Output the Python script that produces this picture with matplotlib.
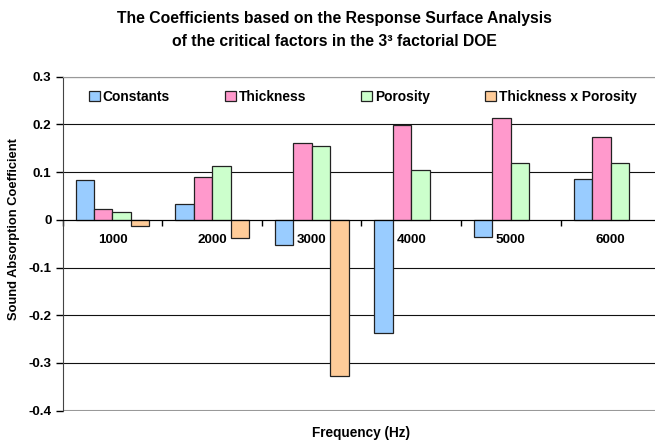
import numpy as np
import matplotlib.pyplot as plt

plt.rcParams['font.family'] = ['Liberation Sans', 'DejaVu Sans']
plt.rcParams['font.weight'] = 'bold'

frequencies = ['1000', '2000', '3000', '4000', '5000', '6000']
constants = [0.084, 0.033, -0.053, -0.238, -0.037, 0.086]
thickness = [0.023, 0.090, 0.161, 0.199, 0.213, 0.173]
porosity = [0.016, 0.113, 0.155, 0.105, 0.120, 0.120]
thick_x_por = [-0.012, -0.038, -0.327, np.nan, np.nan, np.nan]
y_ticks = [-0.4, -0.3, -0.2, -0.1, 0, 0.1, 0.2, 0.3]
y_tick_labels = ['-0.4', '-0.3', '-0.2', '-0.1', '0', '0.1', '0.2', '0.3']

series = [
    ('Constants', constants, '#99CCFF'),
    ('Thickness', thickness, '#FF99CC'),
    ('Porosity', porosity, '#CCFFCC'),
    ('Thickness x Porosity', thick_x_por, '#FFCC99'),
]

fig = plt.figure(figsize=(6.55, 4.45), dpi=100)
# plot area runs a little past the right edge of the figure
ax = fig.add_axes([0.0957, 0.0771, 0.9124, 0.7506])

x = np.arange(len(frequencies))
width = 0.185
for i, (name, vals, color) in enumerate(series):
    ax.bar(x + (i - 1.5) * width, vals, width, color=color,
           edgecolor='#222222', linewidth=0.9, label=name, zorder=3)

ax.set_xlim(-0.5, len(frequencies) - 0.5)
ax.set_ylim(-0.4, 0.3)
ax.set_yticks(y_ticks)
ax.set_yticklabels(y_tick_labels)
ax.yaxis.grid(True, color='#111111', linewidth=0.8, zorder=0)
ax.set_axisbelow(True)

# category axis sits on the zero line
ax.spines['bottom'].set_position(('data', 0))
ax.spines['bottom'].set_color('black')
ax.spines['bottom'].set_zorder(4)
ax.spines['top'].set_color('#999999')
ax.spines['right'].set_visible(False)
ax.spines['left'].set_color('#444444')
ax.set_xticks(x)
ax.set_xticklabels(frequencies)
ax.set_xticks(np.arange(-0.5, len(frequencies), 1), minor=True)
ax.tick_params(axis='x', which='major', length=0, pad=10, labelsize=9.7)
ax.tick_params(axis='x', which='minor', length=4, width=1, direction='out')
ax.tick_params(axis='y', length=5, width=1, labelsize=9.7, pad=3)
ax.axhline(-0.4, color='#999999', linewidth=1.5, zorder=2)

ax.legend(loc='upper left', bbox_to_anchor=(0.022, 1.0), ncol=4, frameon=False,
          prop={'size': 9.9, 'weight': 'bold'}, handlelength=0.8,
          handleheight=0.8, handletextpad=0.2, columnspacing=4.0,
          borderaxespad=0.55)

fig.text(0.511, 0.958, 'The Coefficients based on the Response Surface Analysis',
         ha='center', va='center', fontsize=11.3, fontweight='bold')
fig.text(0.511, 0.906, 'of the critical factors in the 3\u00b3 factorial DOE',
         ha='center', va='center', fontsize=11.3, fontweight='bold')
fig.text(0.021, 1 - 229 / 445, 'Sound Absorption Coefficient', rotation=90,
         ha='center', va='center', fontsize=9.3, fontweight='bold')
fig.text(361 / 655, 1 - 433 / 445, 'Frequency (Hz)', ha='center', va='center',
         fontsize=9.8, fontweight='bold')

fig.savefig('out.png', dpi=100)
